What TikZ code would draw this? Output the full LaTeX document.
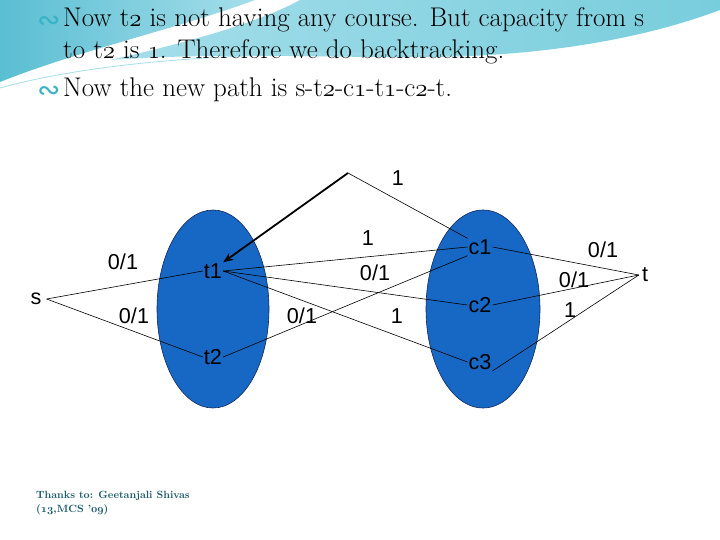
\documentclass[tikz,border=0pt]{standalone}
\usepackage{fontspec}
\newfontfamily\arialf{Liberation Sans}
\newfontfamily\dejavu{DejaVu Sans}
\usetikzlibrary{arrows.meta}
\definecolor{ellblue}{RGB}{22,104,196}
\definecolor{ellline}{RGB}{20,40,90}
\definecolor{bulletc}{RGB}{55,178,198}
\definecolor{footc}{RGB}{25,90,105}
\definecolor{cyanA}{RGB}{90,190,210}
\definecolor{cyanB}{RGB}{165,222,234}
\definecolor{cyanC}{RGB}{120,205,220}
\newcommand\osn[1]{{\usefont{OML}{cmm}{m}{it}#1}}
\newcommand\osnb[1]{{\usefont{OML}{cmm}{b}{it}#1}}
\begin{document}
\begin{tikzpicture}[x=1pt,y=-1pt,
  lbl/.style={font=\arialf\fontsize{21.6}{24}\selectfont, inner sep=1pt},
  edge/.style={draw=black, line width=0.6pt},
  backarrow/.style={draw=black, line width=1.8pt, -{Stealth[length=10pt,width=8pt]}},
  titleline/.style={font=\fontsize{27}{30}\selectfont, anchor=base west, inner sep=0pt},
  bulletmark/.style={font=\dejavu\fontsize{28}{30}\selectfont, text=bulletc, anchor=base west, inner sep=0pt},
  group/.style={fill=ellblue, draw=ellline, line width=0.6pt}]
\useasboundingbox (0,0) rectangle (720,540);
\fill[white] (0,0) rectangle (720,540);
% background swooshes
\shade[left color=cyanA, right color=cyanB] (0,0) -- (255,0) .. controls (180,28) and (80,50) .. (0,82) -- cycle;
\shade[left color=cyanB, right color=cyanC] (300,0) -- (720,0) -- (720,10) .. controls (640,40) and (540,56) .. (430,57) .. controls (330,58) and (220,52) .. (110,60) .. controls (190,42) and (260,22) .. (300,0) -- cycle;
\draw[cyanB, line width=0.8pt] (0,88) .. controls (120,55) and (300,50) .. (470,56);
% title text
\node[bulletmark] (b1) at (37,30) {∾};
\node[titleline] (ln1) at (63,27) {Now t\osn{2} is not having any course. But capacity from s};
\node[titleline] (ln2) at (63,59) {to t\osn{2} is \osn{1}. Therefore we do backtracking.};
\node[bulletmark] (b2) at (37,100) {∾};
\node[titleline] (ln3) at (63,97) {Now the new path is s-t\osn{2}-c\osn{1}-t\osn{1}-c\osn{2}-t.};
% groups
\filldraw[group] (213,309) ellipse [x radius=56, y radius=99];
\filldraw[group] (483,309) ellipse [x radius=57, y radius=99];
% vertices
\node[lbl, inner xsep=5pt] (s) at (36,299) {s};
\node[lbl] (t1) at (213,271) {t1};
\node[lbl] (t2) at (213,357) {t2};
\node[lbl] (c1) at (480,247) {c1};
\node[lbl] (c2) at (480,305) {c2};
\node[lbl] (c3) at (480,362) {c3};
\node[lbl, inner xsep=3pt] (t) at (645,275) {t};
\coordinate (corner) at (348,173);
% connectors
\draw[edge] (s.east) -- (t1.west);
\draw[edge] (s.east) -- (t2.west);
\draw[edge] (t1.east) -- (c1.west);
\draw[edge] (t1.east) -- (c2.west);
\draw[edge] (t1.east) -- (c3.west);
\draw[edge] (t2.east) -- (c1.south west);
\draw[edge] (c1.east) -- (t.west);
\draw[edge] (c2.east) -- (t.west);
\draw[edge] (c3.south east) -- (t.west);
\draw[edge] (c1.north west) -- (corner);
\draw[backarrow] (corner) -- (t1.north east);
% capacities
\node[lbl] (k1) at (398,178) {1};
\node[lbl] (k2) at (368,238) {1};
\node[lbl] (k3) at (375,273) {0/1};
\node[lbl] (k4) at (123,262) {0/1};
\node[lbl] (k5) at (134,316) {0/1};
\node[lbl] (k6) at (302,316) {0/1};
\node[lbl] (k7) at (397,316) {1};
\node[lbl] (k8) at (603,250) {0/1};
\node[lbl] (k9) at (574,280) {0/1};
\node[lbl] (k10) at (570,310) {1};
% footer
\node[font=\fontsize{10.5}{14}\selectfont\bfseries, text=footc, anchor=base west, inner sep=0pt, align=left] (foot) at (36,512) {Thanks to: Geetanjali Shivas\\(\osnb{13},MCS '\osnb{09})};
\end{tikzpicture}
\end{document}
